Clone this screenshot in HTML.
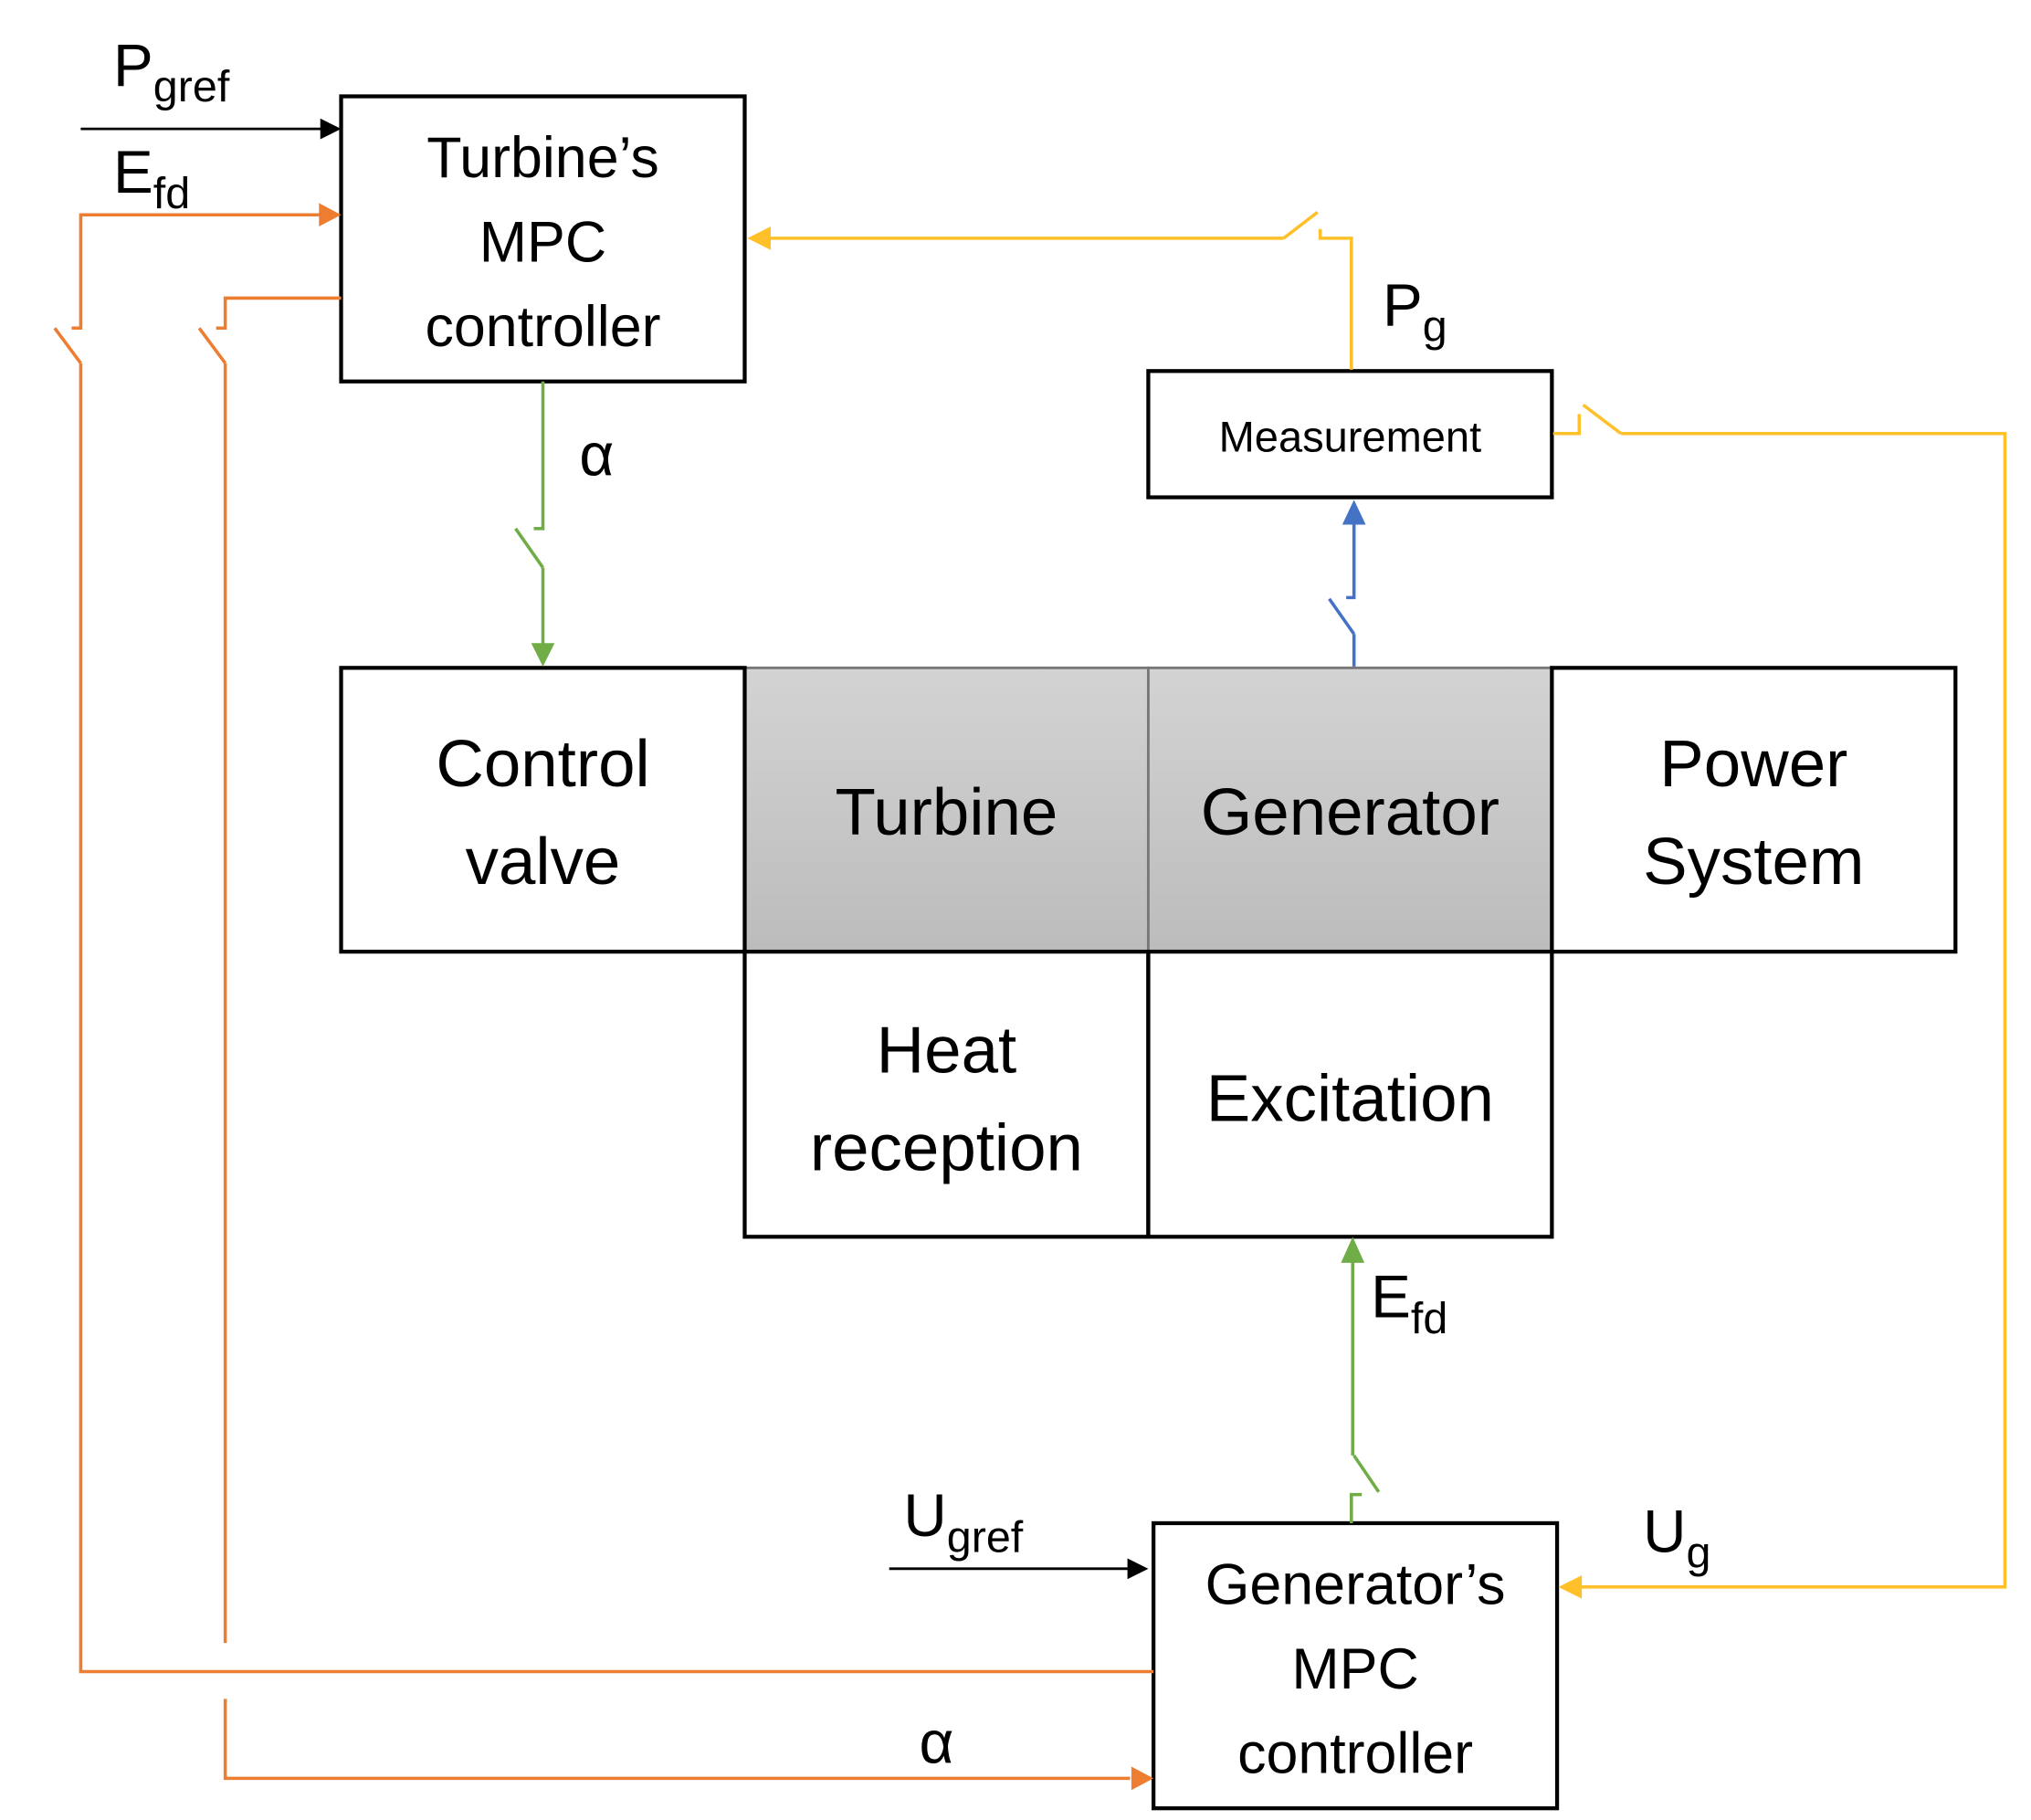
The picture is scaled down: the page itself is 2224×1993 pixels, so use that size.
<!DOCTYPE html>
<html><head><meta charset="utf-8"><style>html,body{margin:0;padding:0;background:#fff}svg{display:block}</style></head>
<body>
<svg width="2224" height="1993" viewBox="0 0 1560 1398" xmlns="http://www.w3.org/2000/svg" font-family="Liberation Sans, sans-serif">
<defs>
<linearGradient id="g" x1="0" y1="0" x2="0" y2="1"><stop offset="0" stop-color="#d3d3d3"/><stop offset="1" stop-color="#bcbcbc"/></linearGradient>
</defs>
<rect width="1560" height="1398" fill="#fff"/>
<rect x="572" y="513" width="310" height="218" fill="url(#g)" stroke="#777" stroke-width="2"/>
<rect x="882" y="513" width="310" height="218" fill="url(#g)" stroke="#777" stroke-width="2"/>
<g fill="none" stroke="#000" stroke-width="3">
<rect x="262" y="74" width="310" height="219"/>
<rect x="882" y="285" width="310" height="97"/>
<rect x="262" y="513" width="310" height="218"/>
<rect x="1192" y="513" width="310" height="218"/>
<rect x="572" y="731" width="310" height="219"/>
<rect x="882" y="731" width="310" height="219"/>
<rect x="886" y="1170" width="310" height="219"/>
<line x1="62" y1="99" x2="248" y2="99" stroke-width="2"/>
<line x1="683" y1="1205" x2="872" y2="1205" stroke-width="2"/>
</g>
<polygon points="262,99 246,91 246,107" fill="#000"/>
<polygon points="882,1205 866,1197 866,1213" fill="#000"/>
<g fill="none" stroke="#ed7d31" stroke-width="2.5">
<polyline points="248,165 62,165 62,252 55,252"/>
<line x1="42" y1="252" x2="62" y2="279"/>
<polyline points="62,279 62,1284 886,1284"/>
<polyline points="262,229 173,229 173,252 166,252"/>
<line x1="153" y1="252" x2="173" y2="279"/>
<line x1="173" y1="279" x2="173" y2="1262"/>
<polyline points="173,1305 173,1366 868,1366"/>
</g>
<polygon points="262,165 245,156 245,174" fill="#ed7d31"/>
<polygon points="886,1366 869,1357 869,1375" fill="#ed7d31"/>
<g fill="none" stroke="#ffc02a" stroke-width="2.5">
<polyline points="1038,284 1038,183 1014,183 1014,176"/>
<line x1="1012" y1="163" x2="986" y2="183"/>
<line x1="986" y1="183" x2="590" y2="183"/>
<polyline points="1193,333 1213,333 1213,318"/>
<line x1="1216" y1="311" x2="1245" y2="333"/>
<polyline points="1245,333 1540,333 1540,1219 1212,1219"/>
</g>
<polygon points="574,183 592,174 592,192" fill="#ffc02a"/>
<polygon points="1197,1219 1215,1210 1215,1228" fill="#ffc02a"/>
<g fill="none" stroke="#70ad47" stroke-width="2.5">
<polyline points="417,293 417,406 410,406"/>
<line x1="396" y1="406" x2="417" y2="436"/>
<line x1="417" y1="436" x2="417" y2="496"/>
<polyline points="1038,1170 1038,1148 1046,1148"/>
<line x1="1059" y1="1146" x2="1040" y2="1118"/>
<line x1="1039" y1="1118" x2="1039" y2="966"/>
</g>
<polygon points="417,512 408,494 426,494" fill="#70ad47"/>
<polygon points="1039,950 1030,970 1048,970" fill="#70ad47"/>
<g fill="none" stroke="#4472c4" stroke-width="2.5">
<polyline points="1040,512 1040,487"/>
<line x1="1040" y1="487" x2="1021" y2="460"/>
<polyline points="1034,459 1040,459 1040,400"/>
</g>
<polygon points="1040,384 1031,403 1049,403" fill="#4472c4"/>
<g fill="#000" font-size="46" font-weight="500">
<text x="87" y="66">P<tspan font-size="34" dy="12">gref</tspan></text>
<text x="87" y="148">E<tspan font-size="34" dy="12">fd</tspan></text>
<text x="445" y="365">α</text>
<text x="1062" y="250">P<tspan font-size="34" dy="12">g</tspan></text>
<text x="1053" y="1012">E<tspan font-size="34" dy="12">fd</tspan></text>
<text x="694" y="1180">U<tspan font-size="34" dy="12">gref</tspan></text>
<text x="1262" y="1192">U<tspan font-size="34" dy="12">g</tspan></text>
<text x="706" y="1354">α</text>
</g>
<g fill="#000" text-anchor="middle" font-size="44" font-weight="500">
<text x="417" y="136">Turbine’s</text>
<text x="417" y="201">MPC</text>
<text x="417" y="266">controller</text>
<text x="1041" y="1232">Generator’s</text>
<text x="1041" y="1297">MPC</text>
<text x="1041" y="1362">controller</text>
</g>
<text x="1037" y="347" font-size="33" text-anchor="middle" font-weight="500">Measurement</text>
<g fill="#000" text-anchor="middle" font-size="51" font-weight="500">
<text x="417" y="604">Control</text>
<text x="417" y="679">valve</text>
<text x="727" y="641">Turbine</text>
<text x="1037" y="641">Generator</text>
<text x="1347" y="604">Power</text>
<text x="1347" y="679">System</text>
<text x="727" y="824">Heat</text>
<text x="727" y="899">reception</text>
<text x="1037" y="861">Excitation</text>
</g>
</svg>
</body></html>
